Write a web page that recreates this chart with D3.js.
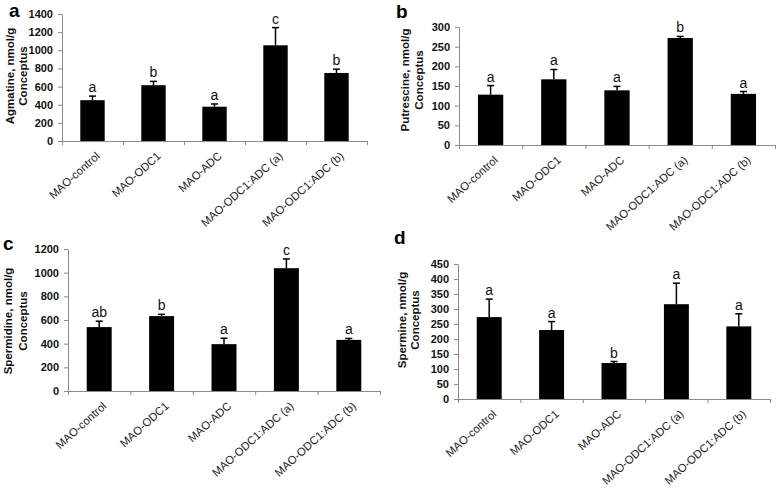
<!DOCTYPE html>
<html>
<head>
<meta charset="utf-8">
<script src="https://cdn.jsdelivr.net/npm/d3@7"></script>
<style>
  body { margin: 0; background: #fff; }
  svg { display: block; font-family: Arial, "Liberation Sans", sans-serif; }
</style>
</head>
<body>
<svg id="chart" width="778" height="489"></svg>
<script>
const categories = ["MAO-control", "MAO-ODC1", "MAO-ADC", "MAO-ODC1:ADC (a)", "MAO-ODC1:ADC (b)"];

const agmatine = [450, 615, 378, 1055, 750];
const agmatineErr = [45, 42, 30, 195, 42];
const agmatineLetters = ["a", "b", "a", "c", "b"];
const agmatineTicks = [0, 200, 400, 600, 800, 1000, 1200, 1400];

const putrescine = [128, 167, 139, 272, 130];
const putrescineErr = [23, 25, 10, 4, 6];
const putrescineLetters = ["a", "a", "a", "b", "a"];
const putrescineTicks = [0, 50, 100, 150, 200, 250, 300];

const spermidine = [540, 633, 396, 1038, 432];
const spermidineErr = [50, 15, 50, 78, 12];
const spermidineLetters = ["ab", "b", "a", "c", "a"];
const spermidineTicks = [0, 200, 400, 600, 800, 1000, 1200];

const spermine = [273, 230, 120, 316, 242];
const spermineErr = [60, 28, 5, 70, 42];
const spermineLetters = ["a", "a", "b", "a", "a"];
const spermineTicks = [0, 50, 100, 150, 200, 250, 300, 350, 400, 450];

const svg = d3.select("#chart");

// layout of each panel (pixel box of the plot area + label offsets)
const panels = [
  { tag: "a", title: "Agmatine, nmol/g", values: agmatine, errs: agmatineErr, letters: agmatineLetters, ticks: agmatineTicks,
    x0: 62, x1: 367, top: 14, bottom: 141, tagX: 9, tagY: 17, lab1: -52, lab2: -39, labY: 76 },
  { tag: "b", title: "Putrescine, nmol/g", values: putrescine, errs: putrescineErr, letters: putrescineLetters, ticks: putrescineTicks,
    x0: 459, x1: 775, top: 27, bottom: 145, tagX: 396, tagY: 18, lab1: -54, lab2: -40, labY: 80 },
  { tag: "c", title: "Spermidine, nmol/g", values: spermidine, errs: spermidineErr, letters: spermidineLetters, ticks: spermidineTicks,
    x0: 68, x1: 380, top: 249, bottom: 391, tagX: 3, tagY: 250, lab1: -60, lab2: -45, labY: 321 },
  { tag: "d", title: "Spermine, nmol/g", values: spermine, errs: spermineErr, letters: spermineLetters, ticks: spermineTicks,
    x0: 458, x1: 770, top: 264, bottom: 399, tagX: 394, tagY: 244, lab1: -56, lab2: -43, labY: 320 }
];

panels.forEach(drawPanel);

function drawPanel(p) {
  const g = svg.append("g");
  const data = categories.map((c, i) => ({ cat: c, v: p.values[i], e: p.errs[i], l: p.letters[i] }));

  const x = d3.scaleBand().domain(categories).range([p.x0, p.x1]).paddingInner(0.6).paddingOuter(0.3);
  const xb = d3.scaleLinear().domain([0, categories.length]).range([p.x0, p.x1]);
  const y = d3.scaleLinear().domain([0, d3.max(p.ticks)]).range([p.bottom, p.top]);

  // y axis
  const ya = g.append("g")
    .attr("transform", `translate(${p.x0},0)`)
    .call(d3.axisLeft(y).tickValues(p.ticks).tickSize(4).tickSizeOuter(0).tickPadding(5).tickFormat(d3.format("d")));
  ya.select(".domain").attr("stroke", "#8a8a8a");
  ya.selectAll(".tick line").attr("stroke", "#8a8a8a");
  ya.selectAll(".tick text").attr("font-size", 11).attr("font-weight", "bold").attr("fill", "#111").attr("font-family", null);

  // x axis with ticks at category boundaries
  const xa = g.append("g")
    .attr("transform", `translate(0,${p.bottom})`)
    .call(d3.axisBottom(xb).tickValues(d3.range(categories.length + 1)).tickSize(4).tickSizeOuter(0).tickFormat(""));
  xa.select(".domain").attr("stroke", "#8a8a8a");
  xa.selectAll(".tick line").attr("stroke", "#8a8a8a");

  // bars
  g.selectAll("rect.bar").data(data).join("rect")
    .attr("class", "bar")
    .attr("x", d => x(d.cat))
    .attr("width", x.bandwidth())
    .attr("y", d => y(d.v))
    .attr("height", d => y(0) - y(d.v))
    .attr("fill", "#000");

  // upper error bars
  const cx = d => x(d.cat) + x.bandwidth() / 2;
  g.selectAll("line.err").data(data).join("line")
    .attr("class", "err")
    .attr("x1", cx).attr("x2", cx)
    .attr("y1", d => y(d.v)).attr("y2", d => y(d.v + d.e))
    .attr("stroke", "#000").attr("stroke-width", 1.5);
  g.selectAll("line.cap").data(data).join("line")
    .attr("class", "cap")
    .attr("x1", d => cx(d) - 3.5).attr("x2", d => cx(d) + 3.5)
    .attr("y1", d => y(d.v + d.e)).attr("y2", d => y(d.v + d.e))
    .attr("stroke", "#000").attr("stroke-width", 1.5);

  // significance letters
  g.selectAll("text.sig").data(data).join("text")
    .attr("class", "sig")
    .attr("x", cx)
    .attr("y", d => y(d.v + d.e) - 4)
    .attr("text-anchor", "middle")
    .attr("font-size", 14)
    .attr("fill", "#111")
    .text(d => d.l);

  // category labels
  g.selectAll("text.cat").data(data).join("text")
    .attr("class", "cat")
    .attr("transform", d => `translate(${cx(d) + 8},${p.bottom + 16}) rotate(-42)`)
    .attr("text-anchor", "end")
    .attr("font-size", 11.3)
    .attr("fill", "#222")
    .text(d => d.cat);

  // y axis title in two lines
  [[p.title, p.lab1], ["Conceptus", p.lab2]].forEach(([t, dx]) => {
    g.append("text")
      .attr("transform", `translate(${p.x0 + dx},${p.labY}) rotate(-90)`)
      .attr("text-anchor", "middle")
      .attr("dy", "0.35em")
      .attr("font-size", 11.5)
      .attr("font-weight", "bold")
      .attr("fill", "#111")
      .text(t);
  });

  // panel tag
  g.append("text")
    .attr("x", p.tagX).attr("y", p.tagY)
    .attr("font-size", 19)
    .attr("font-weight", "bold")
    .attr("fill", "#000")
    .text(p.tag);
}
</script>
</body>
</html>
